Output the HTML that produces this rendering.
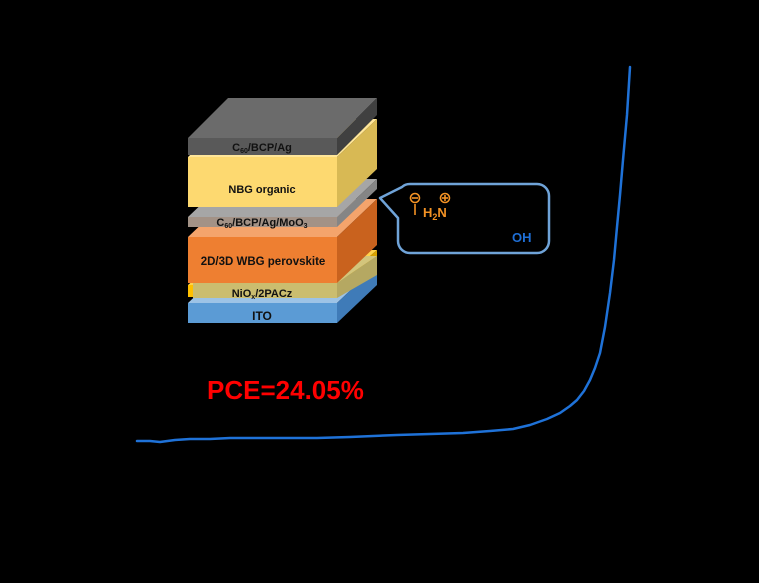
<!DOCTYPE html>
<html><head><meta charset="utf-8"><style>
html,body{margin:0;padding:0;background:#000;}
svg{display:block;}
text{font-family:"Liberation Sans",Arial,sans-serif;font-weight:bold;}
</style></head><body>
<svg width="759" height="583" viewBox="0 0 759 583" xmlns="http://www.w3.org/2000/svg">
<rect width="759" height="583" fill="#000"/>

<!-- ITO -->
<polygon points="188,303 337,303 377,265 228,265" fill="#9dc3e6"/>
<polygon points="337,303 377,265 377,285 337,323" fill="#3f7bb8"/>
<rect x="188" y="303" width="149" height="20" fill="#5b9bd5"/>
<text x="262" y="320" font-size="12" text-anchor="middle" fill="#111">ITO</text>

<!-- gold NiOx -->
<polygon points="188,285 337,285 377,250 228,250" fill="#ffd34d"/>
<polygon points="337,285 377,250 377,260 337,297" fill="#d9a300"/>
<rect x="188" y="285" width="149" height="12" fill="#ffc000"/>
<!-- khaki 2PACz overlay -->
<polygon points="193,283 337,283 377,256 233,256" fill="#d3c57c"/>
<polygon points="337,283 377,256 377,275 337,298" fill="#b5a862"/>
<rect x="193" y="283" width="144" height="15" fill="#cbbd6f"/>
<text x="262" y="297" font-size="11" text-anchor="middle" fill="#111">NiO<tspan font-size="7" dy="2">x</tspan><tspan dy="-2">/2PACz</tspan></text>

<!-- Orange perovskite -->
<polygon points="188,237 337,237 377,199 228,199" fill="#f4a46c"/>
<polygon points="337,237 377,199 377,245 337,283" fill="#c9621e"/>
<rect x="188" y="237" width="149" height="46" fill="#ee7f31"/>
<text x="263" y="265" font-size="11.5" text-anchor="middle" fill="#111">2D/3D WBG perovskite</text>

<!-- middle gray C60/BCP/Ag/MoO3 -->
<polygon points="188,217 337,217 377,179 228,179" fill="#a6a6a6"/>
<polygon points="337,217 377,179 377,189 337,227" fill="#858585"/>
<rect x="188" y="217" width="149" height="10" fill="#a39286"/>
<text x="262" y="226" font-size="11" text-anchor="middle" fill="#111">C<tspan font-size="7" dy="2">60</tspan><tspan dy="-2">/BCP/Ag/MoO</tspan><tspan font-size="7" dy="2">3</tspan></text>

<!-- Yellow NBG organic -->
<polygon points="188,157 337,157 377,119 228,119" fill="#ffe699"/>
<polygon points="337,157 377,119 377,169 337,207" fill="#d8b954"/>
<rect x="188" y="157" width="149" height="50" fill="#fdd970"/>
<text x="262" y="193" font-size="11" text-anchor="middle" fill="#111">NBG organic</text>

<!-- Top gray C60/BCP/Ag -->
<polygon points="188,138 337,138 377,98 228,98" fill="#6b6b6b"/>
<polygon points="337,138 377,98 377,115 337,155" fill="#404040"/>
<rect x="188" y="138" width="149" height="17" fill="#595959"/>
<text x="262" y="151" font-size="11" text-anchor="middle" fill="#111">C<tspan font-size="7" dy="2">60</tspan><tspan dy="-2">/BCP/Ag</tspan></text>

<!-- Callout bubble -->
<path d="M 410 184 H 537 A 12 12 0 0 1 549 196 V 241 A 12 12 0 0 1 537 253 H 410 A 12 12 0 0 1 398 241 V 218 L 380 198 L 402 187 Q 405 184 410 184 Z" fill="none" stroke="#6fa3d8" stroke-width="2.5" stroke-linejoin="round"/>

<!-- molecule -->
<circle cx="415" cy="198" r="4.5" fill="none" stroke="#f39224" stroke-width="1.6"/>
<line x1="412" y1="198" x2="418" y2="198" stroke="#f39224" stroke-width="1.6"/>
<line x1="415" y1="204" x2="415" y2="215" stroke="#f39224" stroke-width="1.6"/>
<circle cx="445" cy="198" r="4.5" fill="none" stroke="#f39224" stroke-width="1.6"/>
<line x1="442" y1="198" x2="448" y2="198" stroke="#f39224" stroke-width="1.6"/>
<line x1="445" y1="195" x2="445" y2="201" stroke="#f39224" stroke-width="1.6"/>
<text x="423" y="217" font-size="13" fill="#f39224">H<tspan font-size="9" dy="3">2</tspan><tspan dy="-3">N</tspan></text>
<text x="512" y="242" font-size="13" fill="#1f6fd6">OH</text>

<!-- PCE -->
<text x="207" y="399" font-size="26" fill="#ff0000">PCE=24.05%</text>

<!-- JV curve -->
<polyline points="137,441 150,441 160,442 175,440 190,439 210,439 230,438 263,438 290,438 317,438 350,437 397,435 430,434 463,433 490,431 513,429 530,425 547,419 560,413 570,406 577,400 584,391 590,380 595,368 600,353 605,327 610,293 614,260 617,227 620,195 623,160 627,115 630,67" fill="none" stroke="#1f72d8" stroke-width="2.5" stroke-linejoin="round" stroke-linecap="round"/>
</svg>
</body></html>
